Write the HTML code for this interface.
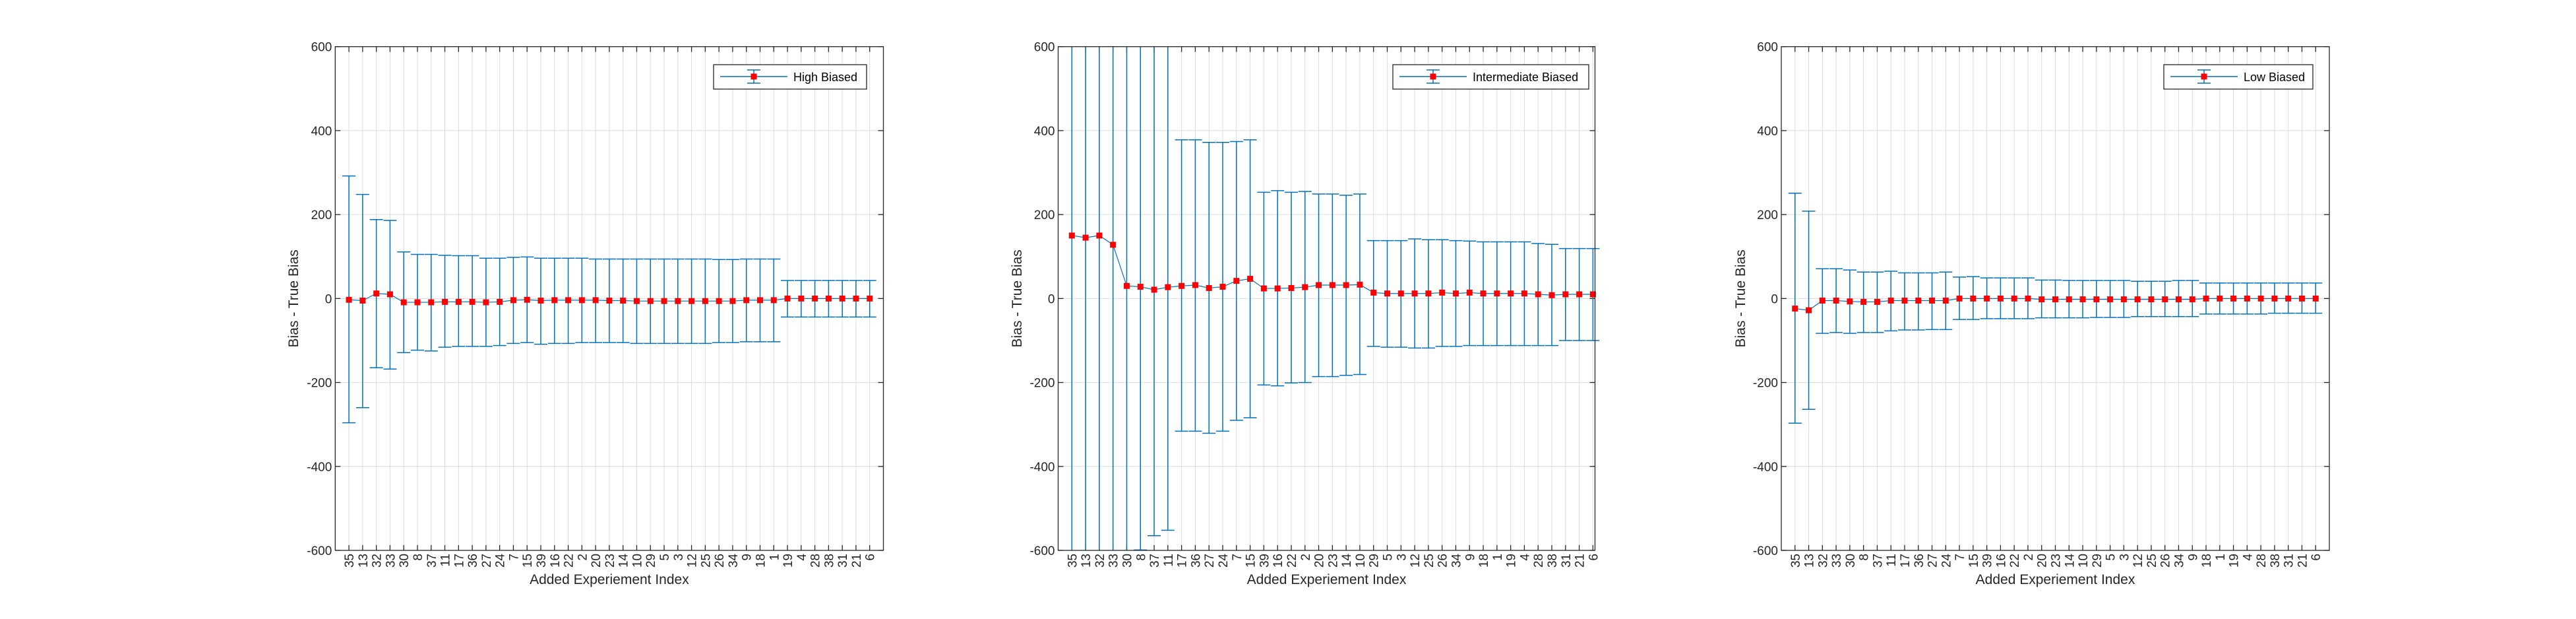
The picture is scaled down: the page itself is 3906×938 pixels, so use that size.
<!DOCTYPE html>
<html><head><meta charset="utf-8">
<style>
html,body{margin:0;padding:0;background:#fff;width:3906px;height:938px;overflow:hidden;}
svg{display:block;font-family:"Liberation Sans",Arial,sans-serif;}
</style></head>
<body>
<svg id="fig" width="3906" height="938" viewBox="0 0 3906 938" xmlns="http://www.w3.org/2000/svg">
<rect x="0" y="0" width="3906" height="938" fill="#fff"/>
</svg>
<script>
const categories = ["35","13","32","33","30","8","37","11","17","36","27","24","7","15","39","16","22","2","20","23","14","10","29","5","3","12","25","26","34","9","18","1","19","4","28","38","31","21","6"];
const yTicks = [-600,-400,-200,0,200,400,600];

const highMean = [-3,-5,12,10,-9,-9,-9,-8,-8,-8,-9,-8,-4,-3,-5,-4,-4,-4,-4,-5,-5,-6,-6,-6,-6,-6,-6,-6,-6,-4,-4,-4,0,0,0,0,0,0,0];
const highUpper = [292,248,188,186,111,105,105,103,102,102,96,96,98,99,96,96,96,96,94,94,94,94,94,94,94,94,94,93,93,94,94,94,43,43,43,43,43,43,43];
const highLower = [-296,-260,-165,-168,-129,-123,-125,-116,-114,-114,-114,-112,-107,-105,-109,-107,-107,-105,-105,-105,-105,-107,-107,-107,-107,-107,-107,-105,-105,-103,-103,-103,-44,-44,-44,-44,-44,-44,-44];

const interMean = [150,145,150,128,30,28,21,27,30,32,25,28,42,47,24,24,25,27,32,32,32,33,14,12,12,12,12,14,12,14,12,12,12,12,10,8,10,10,10];
const interUpper = [900,900,900,900,900,655,607,606,378,378,372,372,374,378,253,257,253,255,249,249,246,249,138,138,138,142,140,140,138,137,135,135,135,135,131,129,119,119,119];
const interLower = [-900,-900,-900,-900,-900,-599,-565,-552,-316,-316,-321,-316,-290,-284,-206,-208,-201,-200,-186,-186,-183,-181,-114,-116,-116,-118,-118,-114,-114,-112,-112,-112,-112,-112,-112,-112,-100,-100,-100];

const lowMean = [-24,-28,-5,-5,-7,-8,-8,-5,-5,-5,-5,-5,0,0,0,0,0,0,-2,-2,-2,-2,-2,-2,-2,-2,-2,-2,-2,-2,0,0,0,0,0,0,0,0,0];
const lowUpper = [251,208,71,71,68,63,63,65,61,61,61,63,51,52,49,49,49,49,44,44,43,43,43,43,43,41,41,41,43,43,37,37,37,37,37,37,37,37,37];
const lowLower = [-297,-264,-83,-81,-83,-81,-81,-77,-75,-75,-74,-74,-50,-50,-48,-48,-48,-48,-46,-46,-46,-46,-45,-45,-45,-43,-43,-43,-43,-43,-37,-37,-37,-37,-37,-35,-35,-35,-35];

const NS = "http://www.w3.org/2000/svg";
const svg = document.getElementById('fig');
function mk(tag, attrs, parent){
  const e = document.createElementNS(NS, tag);
  for (const k in attrs) e.setAttribute(k, attrs[k]);
  (parent||svg).appendChild(e);
  return e;
}
const BLUE = "#0072BD";
const TOP = 70.7, BOT = 834;
const YMIN = -600, YMAX = 600;

function panel(id, left, right, xmax, mean, upper, lower, legendText, legBox, ytitleX){
  const g = mk('g', {});
  
  
  const xs = v => left + (v / xmax) * (right - left);
  const ys = v => BOT - (v - YMIN) / (YMAX - YMIN) * (BOT - TOP);
  const clampV = v => Math.max(YMIN, Math.min(YMAX, v));
  mk('rect', {x:left, y:TOP, width:right-left, height:BOT-TOP, fill:'#fff'}, g);
  const grid = mk('g', {stroke:'#dcdcdc', 'stroke-width':1}, g);
  
  
  categories.forEach((c,i)=>{ const x = xs(i+1); mk('line',{x1:x,x2:x,y1:TOP,y2:BOT},grid); });
  yTicks.forEach(t=>{ const y = ys(t); mk('line',{x1:left,x2:right,y1:y,y2:y},grid); });
  const tk = mk('g', {stroke:'#262626', 'stroke-width':1.3}, g);
  categories.forEach((c,i)=>{ const x = xs(i+1);
    mk('line',{x1:x,x2:x,y1:BOT,y2:BOT-8},tk); mk('line',{x1:x,x2:x,y1:TOP,y2:TOP+8},tk); });
  yTicks.forEach(t=>{ const y = ys(t);
    mk('line',{x1:left,x2:left+8,y1:y,y2:y},tk); mk('line',{x1:right,x2:right-8,y1:y,y2:y},tk); });
  yTicks.forEach(t=>{
    const e = mk('text',{x:left-5, y:ys(t)+7, 'text-anchor':'end', 'font-size':19, fill:'#262626'}, g);
    e.textContent = String(t);
    
    
  });
  categories.forEach((c,i)=>{
    const x = xs(i+1) + 7, y = BOT + 5;
    const e = mk('text',{x:x, y:y, transform:`rotate(-90 ${x} ${y})`, 'text-anchor':'end', 'font-size':19, fill:'#262626'}, g);
    e.textContent = c;
    
    
  });
  const s = mk('g', {}, g);
  
  
  const eb = mk('g', {stroke:BLUE, 'stroke-width':1.5, fill:'none'}, s);
  mean.forEach((m,i)=>{
    const x = xs(i+1);
    const u = clampV(upper[i]), l = clampV(lower[i]);
    const yu = ys(u), yl = ys(l);
    let d = `M${x},${yu}V${yl}`;
    if (upper[i] <= YMAX) d += `M${x-10},${yu}H${x+10}`;
    if (lower[i] >= YMIN) d += `M${x-10},${yl}H${x+10}`;
    const e = mk('path',{d:d}, eb);
    
    
  });
  const pts = mean.map((m,i)=>`${xs(i+1)},${ys(m)}`).join(' ');
  const ln = mk('polyline',{points:pts, fill:'none', stroke:BLUE, 'stroke-width':1.2}, s);
  
  
  mean.forEach((m,i)=>{
    const e = mk('rect',{x:xs(i+1)-4.5, y:ys(m)-4.5, width:9, height:9, fill:'#ff0000'}, s);
    
    
  });
  const bx = mk('rect',{x:left,y:TOP,width:right-left,height:BOT-TOP,fill:'none',stroke:'#262626','stroke-width':1.3}, g);
  
  
  const xt = mk('text',{x:(left+right)/2, y:885, 'text-anchor':'middle', 'font-size':21, fill:'#262626'}, g);
  xt.textContent = 'Added Experiement Index';
  
  
  const cy = (TOP+BOT)/2;
  const yt = mk('text',{x:ytitleX, y:cy, transform:`rotate(-90 ${ytitleX} ${cy})`, 'text-anchor':'middle', 'font-size':21, fill:'#262626'}, g);
  yt.textContent = 'Bias - True Bias';
  
  
  const lg = mk('g', {}, g);
  
  
  const [lx1, lx2] = legBox;
  mk('rect',{x:lx1,y:98,width:lx2-lx1,height:37,fill:'#fff',stroke:'#262626','stroke-width':1.3}, lg);
  const cx = lx1 + 61;
  mk('path',{d:`M${lx1+10},116H${lx1+112}M${cx},106V126M${cx-10},106H${cx+10}M${cx-10},126H${cx+10}`, stroke:BLUE,'stroke-width':1.5,fill:'none'}, lg);
  mk('rect',{x:cx-4.5,y:111.5,width:9,height:9,fill:'#ff0000'}, lg);
  const lt = mk('text',{x:lx1+121, y:123, 'font-size':18, fill:'#000'}, lg);
  lt.textContent = legendText;
  
  
}

panel('high-biased', 508.3, 1339.5, 40, highMean, highUpper, highLower, 'High Biased', [1082,1314], 452);
panel('intermediate-biased', 1604.5, 2418.5, 39.15, interMean, interUpper, interLower, 'Intermediate Biased', [2112,2409], 1549);
panel('low-biased', 2701, 3532, 40, lowMean, lowUpper, lowLower, 'Low Biased', [3281,3507], 2646);
</script>
</body></html>
